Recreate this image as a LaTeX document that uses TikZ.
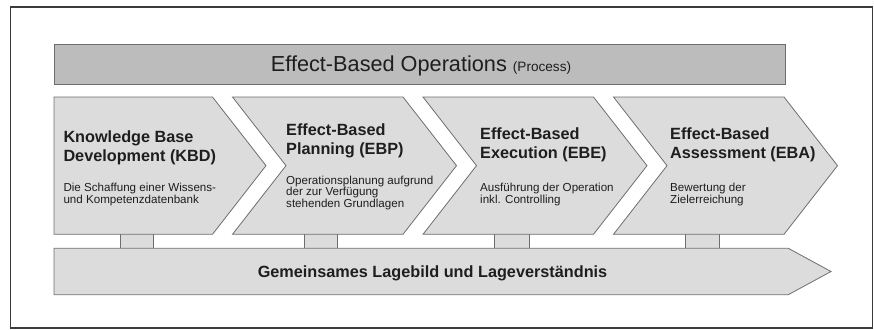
\documentclass[tikz,border=0pt]{standalone}
\usepackage{fontspec}
\setmainfont{Liberation Sans}
\definecolor{barfill}{HTML}{BCBCBC}
\definecolor{chevfill}{HTML}{DCDCDC}
\definecolor{edgegray}{HTML}{6E6E6E}
\definecolor{framegray}{HTML}{3C3C3C}
\definecolor{ink}{HTML}{1E1E1E}
\newcommand\mysubfont{\fontsize{11.6pt}{13pt}\selectfont}
\newcommand\myheadfont{\fontsize{16.25pt}{19pt}\selectfont\bfseries}
\begin{document}
\begin{tikzpicture}[x=1pt,y=-1pt,
  shapeedge/.style={draw=edgegray, line width=0.8pt, fill=chevfill, line join=miter},
  barstyle/.style={draw=edgegray, line width=0.8pt, fill=barfill},
  linkfill/.style={fill=chevfill, draw=none},
  linkside/.style={draw=edgegray, line width=0.8pt},
  headtxt/.style={anchor=base west, inner sep=0pt, text=ink, font=\myheadfont},
  subtxt/.style={anchor=base west, inner sep=0pt, text=ink, font=\mysubfont},
]
\useasboundingbox (0,0) rectangle (874,329);
\draw[draw=framegray, line width=1.2pt] (10.7,7) rectangle (872.7,328);

% top bar
\draw[barstyle] (54,44) rectangle (785.7,84);
\node[anchor=base, inner sep=0pt, text=ink] (title) at (421,71)
  {\fontsize{21.7}{26}\selectfont Effect-Based Operations\ {\fontsize{13.6}{16}\selectfont (Process)}};

% connector blocks
\foreach \a/\b/\n in {120/153.7/l1, 304.3/337.3/l2, 494.7/529/l3, 685.7/719.3/l4}{
  \fill[linkfill] (\a,234.3) rectangle (\b,248.3);
  \coordinate (\n-a) at (\a,234.3);
  \coordinate (\n-b) at (\b,248.3);
  \draw[linkside] (\a,234.3) -- (\a,248.3) (\b,234.3) -- (\b,248.3);
}

% chevrons
\draw[shapeedge] (54,97) -- (212.5,97) -- (266,165.65) -- (212.5,234.3) -- (54,234.3) -- cycle;
\foreach \k in {0,1,2}{
  \pgfmathsetmacro{\L}{232.5+190.5*\k}
  \pgfmathsetmacro{\R}{\L+170.5}
  \draw[shapeedge] (\L,97) -- (\R,97) -- (\R+53.5,165.65) -- (\R,234.3) -- (\L,234.3) -- (\L+53.5,165.65) -- cycle;
}

% bottom arrow
\draw[shapeedge] (54,248.3) -- (788.3,248.3) -- (831,271.5) -- (788.3,294.7) -- (54,294.7) -- cycle;
\node[anchor=base, inner sep=0pt, text=ink, font=\myheadfont] (base) at (432.5,277.5)
  {Gemeinsames Lagebild und Lageverständnis};

% chevron 1 text
\node[headtxt] (kbd1) at (63.3,142.3) {Knowledge Base};
\node[headtxt] (kbd2) at (63.3,161.3) {Development (KBD)};
\node[subtxt] (kbd3) at (63.3,191.7) {Die Schaffung einer Wissens-};
\node[subtxt] (kbd4) at (63.3,203.2) {und Kompetenzdatenbank};

% chevron 2 text
\node[headtxt] (ebp1) at (286,135) {Effect-Based};
\node[headtxt] (ebp2) at (286,154.3) {Planning (EBP)};
\node[subtxt] (ebp3) at (286,184) {Operationsplanung aufgrund};
\node[subtxt] (ebp4) at (286,195.5) {der zur Verfügung};
\node[subtxt] (ebp5) at (286,207) {stehenden Grundlagen};

% chevron 3 text
\node[headtxt] (ebe1) at (480,139.3) {Effect-Based};
\node[headtxt] (ebe2) at (480,158.5) {Execution (EBE)};
\node[subtxt] (ebe3) at (480,191.7) {Ausführung der Operation};
\node[subtxt] (ebe4) at (480,203.3) {inkl. Controlling};

% chevron 4 text
\node[headtxt] (eba1) at (670,139.3) {Effect-Based};
\node[headtxt] (eba2) at (670,158.5) {Assessment (EBA)};
\node[subtxt] (eba3) at (670,191.7) {Bewertung der};
\node[subtxt] (eba4) at (670,203.3) {Zielerreichung};
\end{tikzpicture}
\end{document}
